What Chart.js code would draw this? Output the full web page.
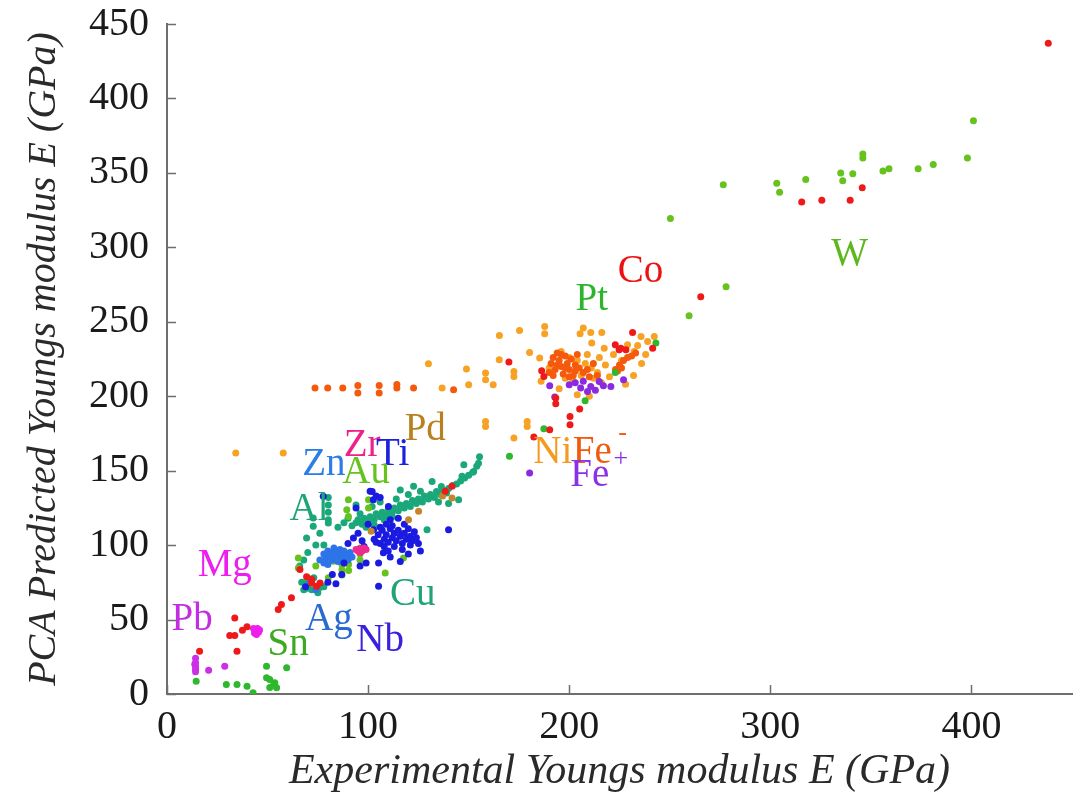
<!DOCTYPE html>
<html>
<head>
<meta charset="utf-8">
<script src="https://cdn.jsdelivr.net/npm/chart.js@4.4.1/dist/chart.umd.min.js"></script>
<style>
html,body{margin:0;padding:0;background:#fff;}
#wrap{width:1081px;height:800px;}
</style>
</head>
<body>
<div id="wrap"><canvas id="c" width="1081" height="800"></canvas></div>
<script>
// ---- tick values ----
const xTickVals = [0, 100, 200, 300, 400];
const yTickVals = [0, 50, 100, 150, 200, 250, 300, 350, 400, 450];
const xTitle = 'Experimental Youngs modulus E (GPa)';
const yTitle = 'PCA Predicted Youngs modulus E (GPa)';

// ---- data series [experimental, predicted] ----
const redPts = [[438.2,437],[345.7,340.1],[339.7,331.7],[325.6,331.7],[315.6,330.5],[265.4,266.8],
 [231.5,242.8],[222.9,234.6],[225.7,232.3],[241.5,232.3],[228.2,231.2],[224.8,231.2],[193.3,198.8],[193.3,195],
 [200.4,186.4],[200.4,180.9],[205.2,191.4],[190.3,177.5],[182.4,172.6],[186.3,217.1],[187.4,213.3],[170,223],
 [138.4,136.1],[141.7,139.5],[55.3,56.7],[56.9,60.1],[61.9,64.6],[66.1,83.6],[69.4,78.7],[71.9,74.6],
 [76.1,74.6],[74.4,72.3],[72,77],[16.2,28.7],[33.7,51.1],[31.2,39.3],[33.7,39.3],[34.8,28.7],[37.5,42.8],[39.8,45.1]];

const yellowGreenPts = [[401,385],[398,360],[381,355.6],[373.5,352.7],[359,352.7],[356,351.3],[346,362.7],[346,360],
 [341,349.5],[335,350],[336,344.8],[317.6,345.5],[303.2,343.1],[304.6,337],[276.6,342],[250.3,319.3],[278,273.5],[259.6,254],
 [90.2,130.5],[100.2,130.5],[90.2,119.3],[89.4,123.8],[100.2,125],[87,80],[87,83.5],[87,87],[90.3,83],[90.3,87],[90.3,91],
 [96,90],[96,94],[96,98],[80.2,78],[65.3,91.4],[65.3,84.7],[117.6,91.4],[108.5,81.3],[74,86],[70,78],[82.7,93.6],[82.7,89.1]];

const greenPts = [[14.5,8.6],[29.5,6.4],[34.8,6.4],[39.8,5.2],[42.8,0.8],[49.5,18.7],[59.5,17.6],[49.5,10.9],
 [51.1,9.7],[53.6,7.5],[54.5,4.2],[51.1,4.4],[53,6],[187.4,178.2],[170.3,159.6],[207.9,197],[222.9,216],[243.1,235.7]];

const orangePts = [[165.3,240.8],[175.3,244.2],[187.8,246.9],[187.8,241.9],[180.3,229.4],[165.2,224.5],[158.4,215.6],
 [158.4,211],[162.2,207.7],[172.5,216.6],[172.5,213.3],[185.3,225.6],[158.4,183],[158.4,179.7],[179.1,183],[179.1,179.7],
 [172.5,172],[207,245.8],[210.7,242.8],[216.2,242.8],[205.4,241.9],[211.2,235.7],[217.4,232.3],[229,234.6],[232.3,230],
 [235.7,240.1],[239,236.8],[242.3,240.1],[136.8,205.5],[150,207.7],[148.9,218.3],[130,221.8],[34.2,161.9],[57.8,161.9],
 [196,230],[200,226],[204,224],[208,222],[211,219],[214,216],[218,221],[220,213],[224,218],[226,224],[212,212],[206,214],
 [202,210],[198,212],[216,209],[228,208],[232,214],[236,222],[238,228],[209,228],[215,226],[195,205],[204,201],[210,200],
 [190,219],[222,228],[234,234],[186,210]];

const orangeRedPts = [[191,222],[192,226],[193,218],[194,229],[195,224],[196,220],[197,215],[198,227],[199,222],[200,218],
 [201,225],[202,214],[203,221],[204,228],[192,214],[196,228],[200,213],[203,217],[194,221],[198,219],[190,216],[205,219],
 [207,216],[209,218],[212,222],[223,218],[225,221],[227,224],[229,226],[231,227],[233,229],[224,217],[226,219],[210,213],
 [214,214],[73.6,205.5],[79.9,205.5],[87.4,205.5],[94.9,207.2],[94.9,202.1],[105.5,207.2],[105.5,202.1],[114.3,205.5],
 [114.3,207.8],[122.6,205.5],[142.5,204.4]];

const purplePts = [[200,207.7],[205.7,205.5],[210.7,206.6],[214.9,209.9],[220.7,206.6],[227,211.1],[209.1,203.2],
 [190.3,207],[192.8,199.5],[180.3,148.5],[213,204],[217,207],[203,209],[207,210]];

const tealPts = [[69.4,104.8],[72.7,112.6],[72.7,118.2],[80.2,132],[80.2,127],[80.2,122],[80.2,117],[80.2,114.9],
 [66,86],[68,90],[70,95],[74,100],[76,108],[78,100],[67,75],[69,73],[70,71],[72,70],[74,70.5],[76,71.5],[78,72],[70,76],
 [73,78],[68,70],[75,68],[92,113],[94,115],[95,117],[97,114],[98,118],[100,116],[101,119],[103,117],[104,121],[106,119],
 [107,122],[109,120],[110,124],[112,122],[113,125],[115,123],[116,127],[118,125],[119,128],[121,126],[122,130],[124,128],
 [125,131],[127,129],[128,133],[130,131],[131,134],[133,132],[134,136],[136,134],[137,137],[139,135],[140,138],[142,140],
 [144,141],[146,143],[148,145],[150,147],[152,149],[154,153],[155.4,159.4],[154.9,155],[147.6,154],[152.5,149.5],
 [146.7,146.2],[131.8,142.8],[145,130.5],[129.3,110.4],[126,136.1],[136.4,139.3],[99,112],[103,113.5],[108,117],[112,119],
 [96,121],[102,126],[106,129],[94,127],[114,131],[120,134],[85,112],[88,115],[90,118],[116,137],[122.6,139.5],[135,129],[140,128]];

const blueDarkPts = [[105.2,72.4],[105.2,88],[107.6,94.8],[92.7,104.8],[102.7,110.4],[101,136.1],[102.6,130.5],[110.1,126],
 [140,110.4],[111,117],[77.7,132.8],[103,104],[105,107],[106,101],[107,110],[108,104],[109,107],[110,102],[111,111],[112,105],
 [113,108],[114,103],[115,110],[116,106],[117,101],[118,108],[119,104],[120,111],[121,106],[122,103],[123,109],[124,105],
 [108,99],[113,99],[110,96],[117,97],[106,112],[112,113],[118,114],[125,101],[126,96],[104,102],[109,114],[115,118],[121,100],
 [100,114],[97,103],[95,108],[98,99],[111,92],[120,94],[116,89],[102,136],[104,133],[106,132],[94,125],[90,101],[96,86],
 [99,88],[88,88],[84,74],[80,75],[82.2,80.2],[86.9,80.2],[68.9,72]];

const blueMidPts = [[78,94],[79,91],[80,96],[81,93],[82,90],[83,95],[84,92],[85,89],[86,94],[87,91],[88,96],[89,93],
 [90,90],[91,95],[92,92],[76,90],[78,88],[83,98],[86,97],[80,87],[74,70],[71,76]];

const magentaPts = [[43.5,41],[44,43],[44.5,42],[45,44],[45.5,41.5],[46,43],[43,44],[44.5,40]];
const violetPts = [[14.2,24],[14.2,21],[14.2,18.5],[14.2,16.5],[14.2,15],[13.8,20],[20.7,16],[28.7,18.7]];
const pinkPts = [[95,96],[96,97.5],[97,96],[98,98],[99,97],[96,95],[94,97]];
const brownPts = [[141.7,131.7],[120.1,117.1],[125.1,122.7],[101.5,109.3],[137,133]];

// ---- element labels ----
const labelText = ['W','Co','Pt','Pd','Zr','Ti','Zn','Au','Al','Mg','Pb','Sn','Ag','Nb','Cu','Ni','Fe','-','+','Fe'];
const labelX = [339.4,235.5,211.2,128.4,97,112.2,78,99,70.6,28.7,12.5,60.2,80.5,106,122.2,191.8,211.5,226.5,225.7,210.2];
const labelY = [288.3,277,258,170.8,159.6,154,147.3,141.7,117.1,79,43.3,26.5,43.3,28.7,60,155.2,155.2,170.5,153.4,139.5];
const labelSize = [39,39,39,39,39,39,39,39,39,39,39,39,39,39,39,39,39,26,26,39];
const labelColor = ['#5cb81c','#ee1111','#2ab52a','#b8801f','#ee2288','#1a22dd','#2d7de8','#66c21c','#1fa377','#ee1eee',
 '#c22ee0','#3caa20','#2a6ad0','#3a22dd','#1fa377','#f59a20','#f05a10','#f05a10','#8a30e8','#8a30e8'];

const toXY = a => a.map(p => ({x: p[0], y: p[1]}));
const mk = (pts, color) => ({data: toXY(pts), backgroundColor: color, borderWidth: 0, pointRadius: 3.5, pointHoverRadius: 3.5});

const labelPlugin = {
  id: 'elementLabels',
  afterDatasetsDraw(chart) {
    const {ctx, scales: {x, y}} = chart;
    ctx.save();
    ctx.textAlign = 'center';
    ctx.textBaseline = 'alphabetic';
    labelText.forEach((t, i) => {
      ctx.font = labelSize[i] + 'px "Liberation Serif"';
      ctx.fillStyle = labelColor[i];
      ctx.fillText(t, x.getPixelForValue(labelX[i]), y.getPixelForValue(labelY[i]));
    });
    ctx.restore();
  }
};

const innerTicks = {
  id: 'innerTicks',
  beforeDatasetsDraw(chart) {
    const {ctx, chartArea, scales: {x, y}} = chart;
    ctx.save();
    ctx.strokeStyle = '#6e6e6e';
    ctx.lineWidth = 1.5;
    ctx.beginPath();
    yTickVals.forEach(v => {
      const py = Math.round(y.getPixelForValue(v)) + 0.5;
      ctx.moveTo(chartArea.left, py);
      ctx.lineTo(chartArea.left + 9, py);
    });
    xTickVals.forEach(v => {
      const px = Math.round(x.getPixelForValue(v)) + 0.5;
      ctx.moveTo(px, chartArea.bottom);
      ctx.lineTo(px, chartArea.bottom - 9);
    });
    ctx.stroke();
    ctx.restore();
  }
};

const tickFont = {family: '"Liberation Serif"', size: 40};
const xTitleFont = {family: '"Liberation Serif"', size: 42, style: 'italic', lineHeight: 1.2};
const yTitleFont = {family: '"Liberation Serif"', size: 40, style: 'italic', lineHeight: 1.2};

new Chart(document.getElementById('c'), {
  type: 'scatter',
  data: {
    datasets: [
      mk(redPts, '#ee1a1a'),
      mk(purplePts, '#8a2be2'),
      mk(greenPts, '#2db82d'),
      mk(pinkPts, '#ee2a90'),
      mk(magentaPts, '#ee1eee'),
      mk(violetPts, '#cc30e6'),
      mk(brownPts, '#c5852a'),
      mk(blueDarkPts, '#1a1ae0'),
      mk(blueMidPts, '#2d74e8'),
      mk(yellowGreenPts, '#66c21c'),
      mk(tealPts, '#1aa87a'),
      mk(orangeRedPts, '#f55a0c'),
      mk(orangePts, '#f7a224')
    ]
  },
  options: {
    responsive: false,
    animation: false,
    devicePixelRatio: 1,
    layout: {padding: {top: 24, right: 9, left: 0, bottom: 0}},
    plugins: {legend: {display: false}, tooltip: {enabled: false}},
    scales: {
      x: {
        type: 'linear', min: 0, max: 450,
        afterBuildTicks: s => { s.ticks = xTickVals.map(v => ({value: v})); },
        afterFit: s => { s.height = 106; s.paddingLeft = 0; s.paddingRight = 0; },
        grid: {display: true, drawOnChartArea: false, drawTicks: false},
        border: {display: true, color: '#6e6e6e', width: 2},
        ticks: {font: tickFont, color: '#1a1a1a', padding: 9, maxRotation: 0},
        title: {display: true, text: xTitle, font: xTitleFont, color: '#2a2a2a', padding: {top: 0, bottom: 3}}
      },
      y: {
        type: 'linear', min: 0, max: 450,
        afterBuildTicks: s => { s.ticks = yTickVals.map(v => ({value: v})); },
        afterFit: s => { s.width = 167; s.paddingTop = 0; s.paddingBottom = 0; },
        grid: {display: true, drawOnChartArea: false, drawTicks: false},
        border: {display: true, color: '#6e6e6e', width: 2},
        ticks: {font: tickFont, color: '#1a1a1a', padding: 18},
        title: {display: true, text: yTitle, font: yTitleFont, color: '#2a2a2a', padding: {top: 20, bottom: 0}}
      }
    }
  },
  plugins: [innerTicks, labelPlugin]
});
</script>
</body>
</html>
